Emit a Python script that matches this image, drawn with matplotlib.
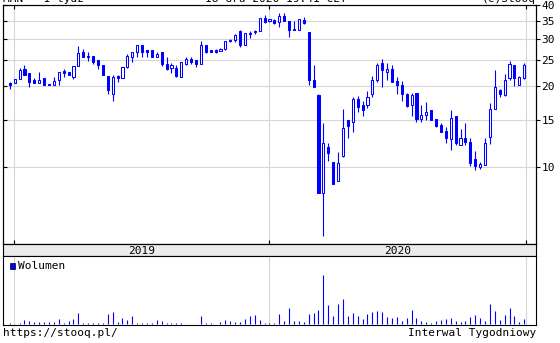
import numpy as np
import pandas as pd
import matplotlib.pyplot as plt
import matplotlib.dates as mdates
from matplotlib.patches import Rectangle
from matplotlib.ticker import NullLocator

plt.rcParams["font.family"] = ["DejaVu Sans Mono"]
plt.rcParams["font.size"] = 8

# weekly candles
dates = pd.date_range("2018-12-26", periods=106, freq="7D")
open_ = [20.5, 20.5, 21.3, 23.1, 22.5, 21.1, 20.6, 21.5, 20.4, 20.3,
         21.1, 22.8, 22.6, 21.6, 23.7, 26.8, 25.9, 25.9, 25.0, 24.0,
         21.8, 18.8, 21.8, 21.4, 23.5, 25.7, 26.8, 28.4, 27.3, 27.3,
         25.8, 26.8, 24.3, 23.3, 23.3, 21.6, 24.2, 25.3, 25.0, 24.2,
         28.4, 27.4, 27.3, 27.1, 27.6, 29.4, 29.6, 32.2, 28.5, 31.5,
         31.9, 32.1, 35.9, 35.0, 35.3, 34.6, 36.5, 35.0, 32.6, 32.3,
         35.3, 31.9, 21.1, 18.6, 8.05, 11.9, 10.5, 8.9, 11.0, 15.0,
         14.8, 18.0, 17.0, 17.1, 18.8, 21.1, 24.5, 22.7, 23.2, 21.0,
         20.2, 18.8, 17.0, 18.9, 15.1, 15.6, 16.3, 15.1, 14.4, 13.6,
         12.7, 15.5, 12.1, 12.9, 12.4, 10.7, 10.0, 10.2, 13.0, 16.5,
         19.4, 18.6, 21.4, 24.0, 20.2, 21.5]
high = [20.8, 21.3, 23.3, 24.0, 22.5, 21.4, 22.6, 21.5, 20.4, 21.6,
        22.7, 23.1, 22.6, 23.8, 28.3, 27.5, 26.8, 25.9, 25.0, 24.0,
        21.8, 22.0, 22.0, 23.5, 26.4, 26.8, 28.5, 28.5, 27.3, 27.3,
        26.8, 26.8, 25.6, 24.5, 23.9, 24.6, 25.6, 25.6, 25.0, 29.5,
        28.4, 27.4, 27.5, 27.8, 29.4, 29.9, 31.3, 32.5, 31.5, 32.0,
        32.3, 35.9, 36.9, 35.6, 35.6, 37.3, 37.3, 35.0, 34.9, 35.5,
        36.1, 31.9, 24.0, 18.8, 14.6, 12.3, 10.5, 11.4, 16.5, 15.0,
        18.2, 18.4, 17.6, 19.2, 21.9, 24.5, 25.3, 24.4, 24.1, 21.7,
        21.0, 18.9, 18.9, 18.9, 17.0, 17.5, 16.3, 15.1, 14.6, 14.1,
        16.3, 15.5, 13.9, 14.6, 12.9, 11.5, 10.5, 12.9, 17.4, 22.9,
        19.6, 22.2, 24.8, 24.1, 21.9, 24.5]
low = [19.6, 20.5, 21.3, 22.1, 19.9, 20.5, 20.6, 20.2, 20.2, 20.3,
       20.3, 21.6, 22.0, 21.3, 23.7, 25.8, 24.8, 24.2, 23.2, 22.1,
       18.8, 17.6, 20.7, 21.4, 23.3, 24.6, 25.6, 25.6, 25.8, 25.8,
       25.8, 23.7, 23.0, 22.5, 21.7, 21.6, 23.9, 24.3, 23.6, 24.2,
       26.5, 26.8, 26.6, 27.0, 27.2, 29.2, 29.3, 28.1, 28.5, 30.3,
       31.3, 32.1, 34.3, 34.8, 34.0, 33.3, 34.9, 30.6, 32.3, 32.3,
       34.2, 20.3, 19.8, 8.05, 5.57, 10.6, 8.7, 8.9, 10.9, 12.9,
       13.5, 16.0, 15.5, 16.6, 18.2, 20.8, 19.8, 21.1, 20.8, 18.7,
       17.6, 16.8, 15.5, 14.7, 14.7, 15.0, 15.0, 14.1, 13.5, 12.3,
       11.6, 12.1, 12.1, 12.1, 10.1, 9.8, 9.9, 10.2, 12.2, 16.5,
       18.2, 18.4, 21.1, 20.0, 20.2, 21.3]
close = [20.2, 21.3, 23.0, 22.1, 20.8, 20.6, 21.1, 20.2, 20.2, 21.0,
         22.7, 22.4, 22.1, 23.7, 26.5, 25.8, 25.8, 24.6, 23.9, 22.1,
         19.3, 21.6, 21.4, 23.5, 25.9, 26.8, 28.4, 26.8, 26.8, 25.8,
         26.4, 24.3, 23.2, 24.0, 21.8, 24.6, 25.3, 24.6, 24.2, 28.5,
         26.8, 26.8, 26.8, 27.6, 29.4, 29.6, 31.0, 28.5, 31.5, 31.4,
         32.1, 35.9, 34.8, 35.5, 34.3, 36.4, 34.9, 32.4, 32.3, 35.5,
         34.5, 21.1, 19.8, 8.05, 12.3, 11.3, 8.7, 10.4, 14.0, 14.2,
         17.9, 16.8, 16.3, 18.3, 21.2, 24.1, 23.0, 23.2, 20.8, 20.2,
         18.8, 16.9, 18.5, 15.1, 15.6, 16.0, 15.0, 14.3, 13.5, 12.9,
         15.3, 12.3, 12.9, 12.4, 10.4, 10.1, 10.3, 12.3, 16.5, 19.8,
         18.7, 21.1, 24.3, 21.5, 21.7, 23.9]
volume = [3, 2, 3, 12, 11, 8, 6, 6, 6, 8, 15, 5, 9, 16, 33, 4, 4, 4, 4, 4,
          30, 36, 6, 18, 14, 24, 5, 4, 4, 4, 12, 11, 4, 4, 4, 3, 1, 1, 1, 24,
          5, 5, 1, 6, 14, 10, 6, 8, 16, 25, 27, 12, 5, 5, 3, 30,
          9, 47, 9, 9, 6, 30, 33, 42, 147, 57, 24, 60, 75, 24, 33, 24, 15, 30,
          36, 39, 36, 21, 18, 21, 9, 18, 42, 18, 9, 6, 3, 9, 12, 15, 18, 9,
          6, 9, 21, 27, 18, 9, 60, 39, 12, 27, 48, 24, 6, 15]

price_ticks = [10, 15, 20, 25, 30, 35, 40]
year_starts = ["2019-01-01", "2020-01-01", "2021-01-01"]
year_mids = ["2019-07-02", "2020-07-02"]
year_labels = ["2019", "2020"]

blue = "#0000ff"
grid = "#d6d6d6"
W, H = 560, 343


def box(x0, y0, x1, y1):
    # pixel box (from top-left) -> figure fraction
    return [x0 / W, 1 - y1 / H, (x1 - x0) / W, (y1 - y0) / H]


x = mdates.date2num(dates)
o = np.array(open_)
c = np.array(close)
up = c >= o
start = mdates.date2num(pd.Timestamp("2019-01-01"))
xlim = (start - 15.7, start + 745.8)
years = mdates.date2num(pd.to_datetime(year_starts))

fig = plt.figure(figsize=(5.6, 3.43), dpi=100)
ax = fig.add_axes(box(3, 5, 536, 244))
ax_year = fig.add_axes(box(3, 244, 536, 256))
ax_vol = fig.add_axes(box(3, 256, 536, 325))

# price panel
ax.vlines(x, low, high, color=blue, lw=0.8, zorder=2)
ax.bar(x, np.maximum(np.abs(c - o), 0.05), bottom=np.minimum(o, c), width=3.0,
       color=np.where(up, "white", blue), edgecolor=blue, lw=0.75, zorder=3)
ax.set_yscale("log")
ax.set_ylim(5.19, 40.1)
ax.set_xlim(xlim)
ax.set_yticks(price_ticks)
ax.yaxis.set_minor_locator(NullLocator())
ax.tick_params(axis="y", direction="in", length=3, left=True, right=False,
               labelleft=False, width=0.8)
ax.set_xticks(years)
ax.tick_params(axis="x", direction="in", length=3, top=True, bottom=True,
               labelbottom=False, width=0.8)
ax.grid(True, color=grid, lw=0.8, zorder=0)
ax.set_axisbelow(True)

axr = ax.twinx()
axr.set_yscale("log")
axr.set_ylim(5.19, 40.1)
axr.set_yticks(price_ticks)
axr.set_yticklabels([str(t) for t in price_ticks])
axr.yaxis.set_minor_locator(NullLocator())
axr.tick_params(axis="y", direction="out", length=3, pad=1, width=0.8)

# year bar
ax_year.set_facecolor("#ebebeb")
ax_year.set_xlim(xlim)
ax_year.set_ylim(0, 1)
ax_year.set_xticks([])
ax_year.set_yticks([])
for m, lab in zip(mdates.date2num(pd.to_datetime(year_mids)), year_labels):
    ax_year.text(m, 0.45, lab, ha="center", va="center")

# volume panel
ax_vol.vlines(x, 0, volume, color=blue, lw=0.8)
ax_vol.set_xlim(xlim)
ax_vol.set_ylim(-2, 202)
ax_vol.set_yticks([])
ax_vol.set_xticks(years)
ax_vol.tick_params(axis="x", length=0, labelbottom=False)
ax_vol.grid(True, axis="x", color=grid, lw=0.8)
ax_vol.set_axisbelow(True)

for a in (ax, axr, ax_year, ax_vol):
    for s in a.spines.values():
        s.set_linewidth(0.8)

fig.add_artist(Rectangle((9.5 / W, 1 - 268.5 / H), 5.5 / W, 5.5 / H,
                         facecolor=blue, edgecolor="black", lw=0.5,
                         transform=fig.transFigure))
fig.text(18 / W, 1 - 266 / H, "Wolumen", va="center")

# texts
fig.text(3 / W, 1 - 333 / H, "https://stooq.pl/", va="center")
fig.text(536 / W, 1 - 333 / H, "Interwal Tygodniowy", ha="right", va="center")
fig.text(3 / W, 1 - 2.5 / H, "MAN - 1 tydz", va="baseline")
fig.text(205 / W, 1 - 2.5 / H, "18 Gru 2020 19:41 CET", va="baseline")
fig.text(536 / W, 1 - 2.5 / H, "(c)Stooq", ha="right", va="baseline")

fig.savefig("out.png", dpi=100)
